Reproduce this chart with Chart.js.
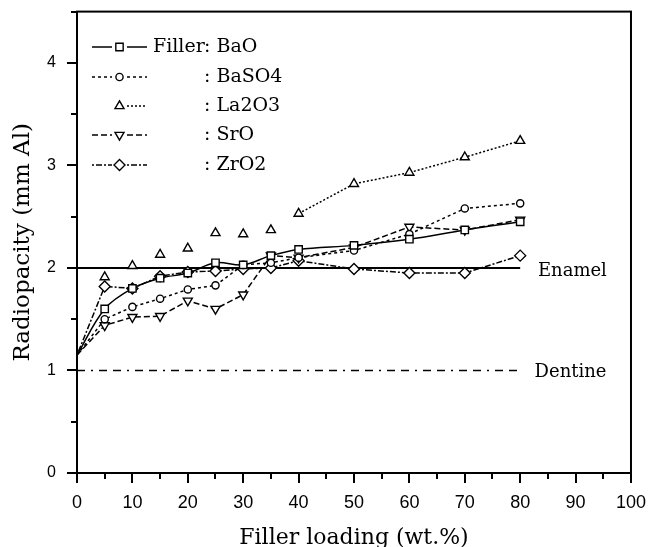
<!DOCTYPE html>
<html>
<head>
<meta charset="utf-8">
<script src="https://cdn.jsdelivr.net/npm/chart.js@4.4.1/dist/chart.umd.min.js"></script>
<style>
  html, body { margin: 0; padding: 0; background: #fff; }
</style>
</head>
<body>
<canvas id="radioChart" width="648" height="547"></canvas>
<script>
// Filler loading (wt.%) where each composite was measured
const loading = [0, 5, 10, 15, 20, 25, 30, 35, 40, 50, 60, 70, 80];

// Radiopacity (mm Al) per filler type
const baO   = [1.15, 1.60, 1.80, 1.90, 1.95, 2.05, 2.03, 2.12, 2.18, 2.22, 2.28, 2.37, 2.45];
const baSO4 = [1.15, 1.50, 1.62, 1.70, 1.79, 1.83, 2.03, 2.05, 2.10, 2.17, 2.33, 2.58, 2.63];
const la2O3 = [null, 1.91, 2.02, 2.13, 2.19, 2.34, 2.33, 2.37, 2.53, 2.82, 2.93, 3.08, 3.24];
const srO   = [1.15, 1.44, 1.52, 1.53, 1.68, 1.60, 1.74, 2.12, 2.10, 2.20, 2.40, 2.37, 2.47];
const zrO2  = [1.15, 1.82, 1.80, 1.92, 1.96, 1.97, 1.99, 2.00, 2.07, 1.99, 1.95, 1.95, 2.12];

// Reference tissues
const refX = [0, 80];
const enamel = [2, 2];
const dentine = [1, 1];

const xTicks = [0, 10, 20, 30, 40, 50, 60, 70, 80, 90, 100];
const yTicks = [0, 1, 2, 3, 4];

const toPoints = (xs, ys) => xs.map((x, i) => ({ x: x, y: ys[i] }));

function series(label, values, style, extra) {
    return Object.assign({
        label: label,
        data: toPoints(loading, values),
        borderColor: '#000',
        borderWidth: 1.5,
        backgroundColor: '#fff',
        pointBackgroundColor: '#fff',
        pointBorderColor: '#000',
        pointBorderWidth: 1.4,
        pointStyle: style,
        pointRadius: ctx => ctx.raw && ctx.raw.x === 0 ? 0 : 4.5,
        tension: 0,
        fill: false
    }, extra || {});
}

const datasets = [
    series('BaO', baO, 'rect', { tension: 0.35, pointRadius: ctx => ctx.raw.x === 0 ? 0 : 5.2 }),
    series('BaSO4', baSO4, 'circle', { borderDash: [3, 3], pointRadius: ctx => ctx.raw.x === 0 ? 0 : 3.6 }),
    series('La2O3', la2O3, 'triangle', {
        borderDash: [2, 2],
        pointRadius: 5.2,
        legendLeft: false,
        // the fitted La2O3 line only starts at 40 wt.%
        segment: { borderColor: ctx => ctx.p0.parsed.x < 40 ? 'rgba(0,0,0,0)' : '#000' }
    }),
    series('SrO', srO, 'triangle', { borderDash: [6, 3], pointRotation: 180, pointRadius: ctx => ctx.raw.x === 0 ? 0 : 5.2 }),
    series('ZrO2', zrO2, 'rectRot', { borderDash: [2, 2, 6, 2], pointRadius: ctx => ctx.raw.x === 0 ? 0 : 5.5 }),
    {
        label: 'Enamel',
        data: toPoints(refX, enamel),
        borderColor: '#000',
        borderWidth: 2,
        pointRadius: 0,
        refLine: true
    },
    {
        label: 'Dentine',
        data: toPoints(refX, dentine),
        borderColor: '#000',
        borderWidth: 1.5,
        borderDash: [8, 6, 2, 6, 8, 6],
        pointRadius: 0,
        refLine: true
    }
];

// Box around the plot with outward major/minor ticks
const frameTicks = {
    id: 'frameTicks',
    afterDraw(chart) {
        const { ctx, chartArea: a, scales: { x, y } } = chart;
        ctx.save();
        ctx.strokeStyle = '#000';
        ctx.lineWidth = 2;
        ctx.strokeRect(a.left, a.top, a.right - a.left, a.bottom - a.top);
        ctx.beginPath();
        for (let v = 0; v <= 100; v += 5) {
            const px = Math.round(x.getPixelForValue(v));
            const len = v % 10 === 0 ? 10 : 6;
            ctx.moveTo(px, a.bottom);
            ctx.lineTo(px, a.bottom + len);
        }
        for (let v = 0; v <= 4.5; v += 0.5) {
            const py = Math.round(y.getPixelForValue(v));
            const len = v % 1 === 0 ? 10 : 6;
            ctx.moveTo(a.left, py);
            ctx.lineTo(a.left - len, py);
        }
        ctx.stroke();
        ctx.restore();
    }
};

// Legend block (line sample + marker, then ": name") and the tissue labels
const annotations = {
    id: 'annotations',
    afterDraw(chart) {
        const { ctx, scales: { x, y } } = chart;
        const h = Chart.helpers;
        ctx.save();
        ctx.fillStyle = '#000';
        ctx.font = '18px "DejaVu Serif"';
        ctx.textBaseline = 'middle';
        ctx.fillText('Enamel', x.getPixelForValue(83.2), y.getPixelForValue(enamel[1]) + 3);
        ctx.fillText('Dentine', x.getPixelForValue(82.6), y.getPixelForValue(dentine[1]) + 2);

        const rowY = [47, 77, 106, 135, 165];
        chart.data.datasets.filter(d => !d.refLine).forEach((d, i) => {
            const yy = rowY[i];
            ctx.strokeStyle = '#000';
            ctx.lineWidth = d.borderWidth;
            ctx.setLineDash(d.borderDash || []);
            ctx.beginPath();
            if (d.legendLeft !== false) {
                ctx.moveTo(92, yy);
                ctx.lineTo(112, yy);
            }
            ctx.moveTo(127, yy);
            ctx.lineTo(147, yy);
            ctx.stroke();
            ctx.setLineDash([]);
            ctx.fillStyle = '#fff';
            ctx.lineWidth = 1.4;
            const r = typeof d.pointRadius === 'function' ? d.pointRadius({ raw: { x: 5 } }) : d.pointRadius;
            h.drawPoint(ctx, { pointStyle: d.pointStyle, rotation: d.pointRotation || 0, radius: r, borderWidth: 1.4 }, 119.5, yy);
            ctx.fillStyle = '#000';
            ctx.font = '19px "DejaVu Serif"';
            if (i === 0) ctx.fillText('Filler', 153, yy);
            ctx.fillText(': ' + d.label, 204, yy);
        });
        ctx.restore();
    }
};

// tick marks are drawn by frameTicks; the library's ticks only space the labels
const hiddenTicks = len => ({
    display: true,
    drawOnChartArea: false,
    drawTicks: true,
    tickLength: len,
    tickColor: 'rgba(0,0,0,0)'
});

new Chart(document.getElementById('radioChart'), {
    type: 'line',
    data: { datasets: datasets },
    options: {
        responsive: false,
        animation: false,
        layout: { padding: { left: 0, top: 3, right: 0, bottom: 0 } },
        plugins: {
            legend: { display: false },
            tooltip: { enabled: false }
        },
        scales: {
            x: {
                type: 'linear',
                min: 0,
                max: 100,
                afterFit: s => { s.height = 74; },
                grid: hiddenTicks(17),
                border: { display: false },
                ticks: {
                    stepSize: 10,
                    padding: 2,
                    color: '#000',
                    maxRotation: 0,
                    font: { family: '"Liberation Sans", Arial', size: 18 },
                    callback: v => xTicks.includes(v) ? v : ''
                },
                title: {
                    display: true,
                    text: 'Filler loading (wt.%)',
                    color: '#000',
                    font: { family: '"DejaVu Serif"', size: 22 },
                    padding: { top: 0, bottom: -4 }
                }
            },
            y: {
                type: 'linear',
                min: 0,
                max: 4.5,
                afterFit: s => { s.width = 77; },
                grid: hiddenTicks(19),
                border: { display: false },
                ticks: {
                    stepSize: 1,
                    includeBounds: false,
                    padding: 2,
                    color: '#000',
                    font: { family: '"Liberation Sans", Arial', size: 16 },
                    callback: v => yTicks.includes(v) ? v : ''
                },
                title: {
                    display: true,
                    text: 'Radiopacity (mm Al)',
                    color: '#000',
                    font: { family: '"DejaVu Serif"', size: 23 },
                    padding: { top: 9, bottom: 0 }
                }
            }
        }
    },
    plugins: [frameTicks, annotations]
});
</script>
</body>
</html>
